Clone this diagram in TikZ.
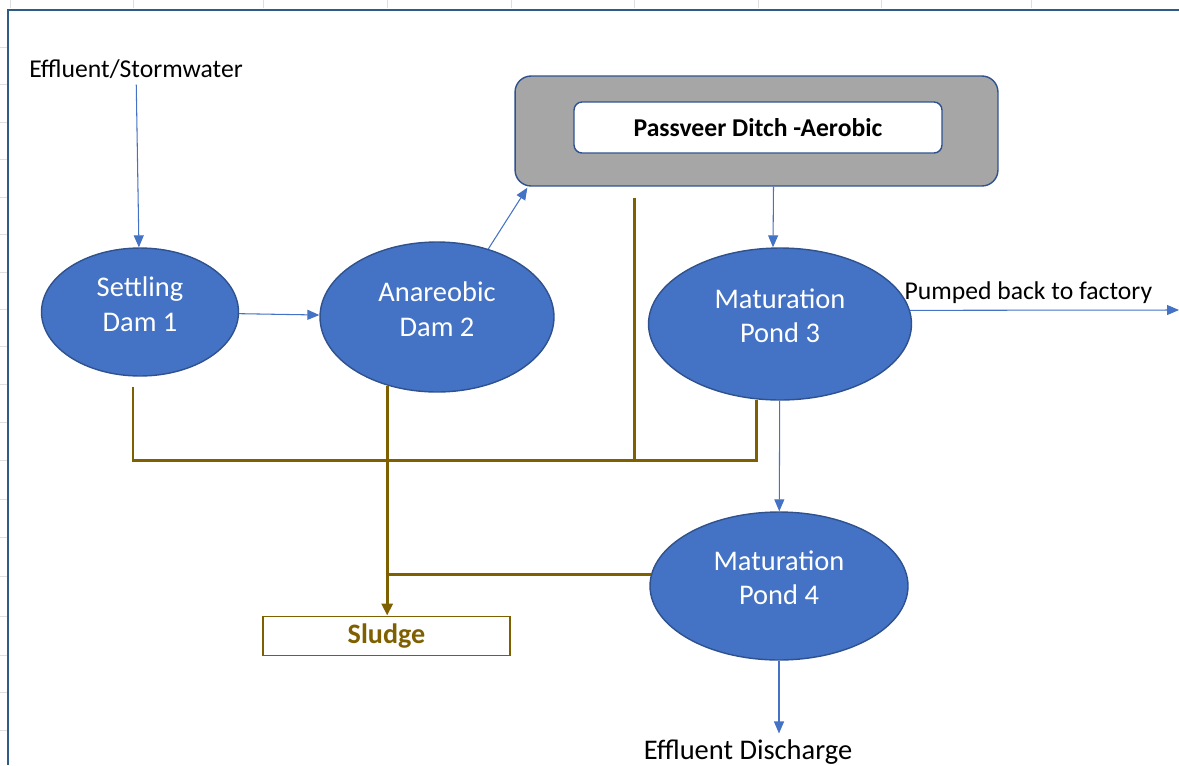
\documentclass[tikz,border=0pt]{standalone}
\usepackage{fontspec}
\setmainfont{Carlito}
\usetikzlibrary{arrows.meta,calc,positioning,shapes.geometric}
\definecolor{pondblue}{HTML}{4472C4}
\definecolor{pondedge}{HTML}{2F528F}
\definecolor{sludgebrown}{HTML}{7F6000}
\definecolor{frameblue}{HTML}{2E5B88}
\definecolor{ditchgray}{HTML}{A6A6A6}

\begin{document}
\begin{tikzpicture}[
  x=0.02cm,y=-0.02cm,
  every node/.style={font=\fontsize{14.6}{17.5}\selectfont},
  pond/.style={ellipse,draw=pondedge,line width=.8pt,fill=pondblue,text=white,
    align=center,inner sep=0pt,text depth=9pt,font=\fontsize{16.2}{19.4}\selectfont},
  flow/.style={-{Triangle[length=.24cm,width=.2cm]},pondblue,line width=.6pt},
  sludgeline/.style={sludgebrown,line width=1.7pt},
  sludgeflow/.style={sludgeline,-{Triangle[length=.24cm,width=.22cm]}}]
  \path[use as bounding box] (0,0) rectangle (1179,765);

  % Sheet grid ticks and frame.
  \foreach \gx in {10,133,263,387,511,634,758,881,1031}
    \draw[gray!25,line width=.5pt] (\gx,0) -- (\gx,8);
  \foreach \gy in {47,84,122,159,197,234,272,309,346,384,422,460,499,537,576,616,655,692,730}
    \draw[gray!25,line width=.5pt] (0,\gy) -- (7,\gy);
  \draw[frameblue,line width=1.4pt] (8,765) -- (8,10) -- (1179,10);

  % Dams and ponds.
  \node (inflow) at (136,69) {Effluent/Stormwater};
  \node[pond,minimum width=3.94cm,minimum height=2.56cm] (settle) at (140,312)
    {Settling\\Dam 1};
  \node[pond,minimum width=4.68cm,minimum height=3.0cm] (anaer) at (437,317)
    {Anareobic\\Dam 2};
  \node[pond,minimum width=5.26cm,minimum height=3.04cm] (pond3) at (780,324)
    {Maturation\\Pond 3};
  \node[pond,minimum width=5.16cm,minimum height=2.96cm] (pond4) at (779,586)
    {Maturation\\Pond 4};

  % Passveer ditch.
  \node[draw=pondedge,line width=.8pt,fill=ditchgray,rounded corners=.32cm,
    minimum width=9.66cm,minimum height=2.2cm] (ditch) at (756.5,131) {};
  \node[draw=pondedge,line width=.8pt,fill=white,rounded corners=.16cm,
    minimum width=7.36cm,minimum height=1.02cm,font=\bfseries\fontsize{14.6}{17.5}\selectfont]
    (ditchlabel) at (758,127.5) {Passveer Ditch -Aerobic};

  \node[draw=sludgebrown,line width=1.1pt,fill=white,minimum width=4.94cm,
    minimum height=.78cm,text=sludgebrown,font=\bfseries\fontsize{16}{19}\selectfont]
    (sludge) at (386.5,636) {Sludge};
  \node[font=\fontsize{16.2}{19.4}\selectfont] (disch) at (748,752) {Effluent Discharge};
  \coordinate (factory) at (1179,310);

  % Water flow.
  \draw[flow] (inflow) -- (settle);
  \draw[flow] (settle) -- (anaer);
  \draw[flow] (anaer.53) -- ($(ditch.south west)+(13,1)$);
  \draw[flow] ($(ditch.south)+(17,0)$) -- ($(pond3.north)+(-7,0)$);
  \draw[flow] (pond3.6) --
    node[pos=.44,above,text=black] {Pumped back to factory} (factory);
  \draw[flow] (pond3) -- (pond4);
  \draw[flow] (pond4) -- (pond4 |- disch.north);

  % Sludge collection.
  \coordinate (mleft) at (133,460);
  \draw[sludgeline] ([shift={(-7,10)}]settle.south) -- (mleft)
    -- (mleft -| pond3.-107) -- (pond3.-107);
  \draw[sludgeline] ([shift={(-122,11)}]ditch.south) coordinate (dd) -- (dd |- mleft);
  \draw[sludgeflow] (anaer.-126) -- (anaer.-126 |- sludge.north);
  \draw[sludgeline] (pond4.175) -- (pond4.175 -| sludge.north);
\end{tikzpicture}
\end{document}
